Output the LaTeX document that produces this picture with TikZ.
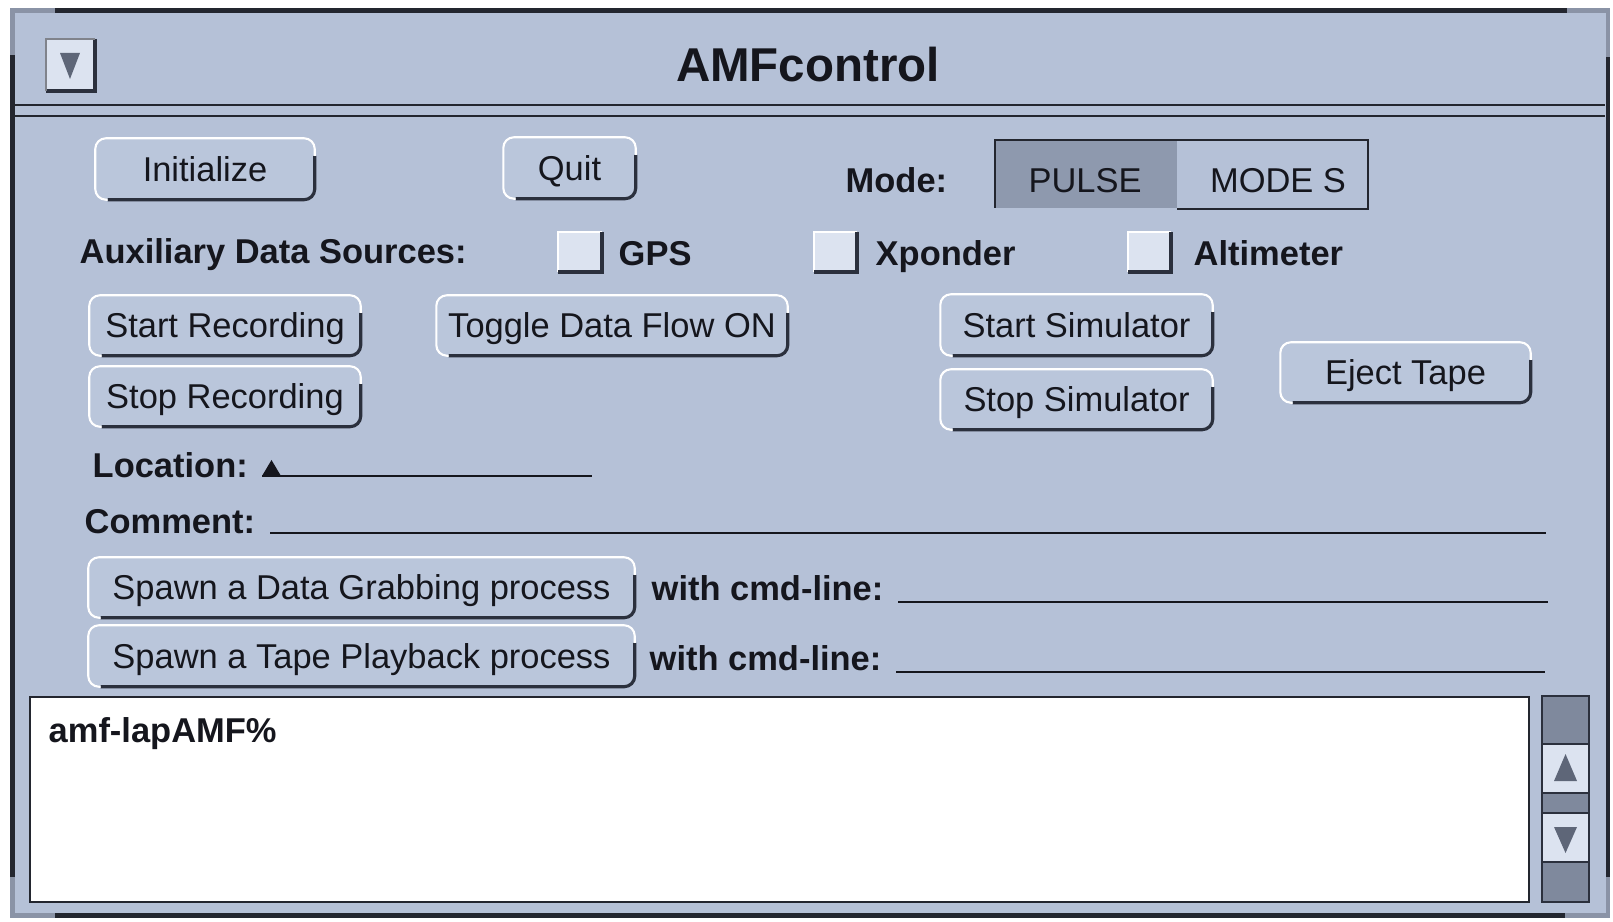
\documentclass[tikz,border=0pt]{standalone}
\usepackage{fontspec}
\setmainfont{Liberation Sans}
\definecolor{winbg}{HTML}{B5C1D7}
\definecolor{btnfill}{HTML}{BAC6DB}
\definecolor{txt}{HTML}{15161D}
\definecolor{shadow}{HTML}{2B303D}
\definecolor{framedark}{HTML}{23262F}
\definecolor{framegray}{HTML}{8A93A6}
\definecolor{lightbox}{HTML}{DCE3F0}
\definecolor{darkseg}{HTML}{7F899D}
\definecolor{pulsefill}{HTML}{8E99AE}
\definecolor{arrowgray}{HTML}{5E6678}
\tikzset{
 lbl/.style={font=\bfseries\fontsize{9.8}{12}\selectfont, text=txt, inner sep=0pt, anchor=base west},
 btn/.style={rounded corners=3pt, fill=btnfill, inner sep=0pt, font=\fontsize{9.8}{12}\selectfont, text=txt, text height=7pt, text depth=0pt},
 btnhi/.style={draw=white, line width=0.6pt, rounded corners=3pt},
 btnsh/.style={draw=shadow, line width=0.9pt, rounded corners=3pt},
 field/.style={draw=txt, line width=0.7pt},
 plain/.style={font=\fontsize{9.8}{12}\selectfont, text=txt, inner sep=0pt, text height=7pt, text depth=0pt},
}
\newcommand\mkbtn[6]{%
 \node[btn, minimum width={(#4-#2)*0.01cm}, minimum height={(#5-#3)*0.01cm}] (#1) at ({(#2+#4)/2},{(#3+#5)/2}) {#6};
 \draw[btnsh] ([yshift=-5pt]#1.north east) -- (#1.south east) -- ([xshift=3.5pt]#1.south west);
 \draw[btnhi] ([xshift=3.5pt]#1.south west) -- (#1.south west) -- (#1.north west) -- (#1.north east) -- ([yshift=-5pt]#1.north east);
}
\newcommand\mkchk[4]{%
 \fill[lightbox] (#1,#2) rectangle (#3,#4);
 \draw[white, line width=0.6pt] (#1,#4) -- (#1,#2) -- (#3,#2);
 \draw[shadow, line width=0.9pt] (#3,#2) -- (#3,#4) -- (#1,#4);
}
\begin{document}
\begin{tikzpicture}[x=0.01cm,y=-0.01cm]
\useasboundingbox (0,0) rectangle (1613,922);
\fill[white] (0,0) rectangle (1613,922);
\fill[winbg] (10,8) rectangle (1610,918);
% frame
\draw[framedark, line width=1.4pt] (55,10.5) -- (1567,10.5);
\draw[framedark, line width=1.4pt] (12.5,55) -- (12.5,877);
\draw[framedark, line width=1.4pt] (1608,57) -- (1608,877);
\draw[framedark, line width=1.4pt] (55,915.5) -- (1565,915.5);
\draw[framegray, line width=1.4pt] (12.5,55) -- (12.5,10.5) -- (55,10.5);
\draw[framegray, line width=1.4pt] (1567,10.5) -- (1608,10.5) -- (1608,57);
\draw[framegray, line width=1.4pt] (12.5,877) -- (12.5,915.5) -- (55,915.5);
\draw[framegray, line width=1.4pt] (1565,915.5) -- (1608,915.5) -- (1608,877);
% title bar
\draw[framedark, line width=0.8pt] (15,105) -- (1605,105);
\draw[framedark, line width=0.8pt] (15,116) -- (1605,116);
\fill[lightbox] (46,39) rectangle (95,91);
\draw[shadow, line width=0.9pt] (95,39) -- (95,91) -- (46,91);
\draw[shadow!60, line width=0.5pt] (46,91) -- (46,39) -- (95,39);
\fill[arrowgray] (60,53) -- (80,53) -- (70,79) -- cycle;
\node[font=\bfseries\fontsize{13.5}{16}\selectfont, text=txt, inner sep=0pt, anchor=base] (title) at (808,82) {AMFcontrol};
% row 1
\mkbtn{init}{96}{139}{314}{199}{Initialize}
\mkbtn{quit}{504}{138}{635}{198}{Quit}
\node[lbl] (mode) at (845,193) {Mode:};
\fill[pulsefill] (995,140) rectangle (1177,208);
\draw[framedark, line width=0.7pt] (995,208) -- (995,140) -- (1368,140) -- (1368,209) -- (1177,209);
\node[plain] (pulse) at (1085,180) {PULSE};
\node[plain] (modes) at (1278,180) {MODE S};
% row 2
\node[lbl] (aux) at (79,264) {Auxiliary Data Sources:};
\mkchk{558}{232}{602}{272}
\node[lbl] (gps) at (618,266) {GPS};
\mkchk{814}{232}{857}{272}
\node[lbl] (xp) at (875,266) {Xponder};
\mkchk{1128}{232}{1171}{272}
\node[lbl] (alt) at (1193,266) {Altimeter};
% buttons
\mkbtn{startrec}{90}{296}{360}{355}{Start Recording}
\mkbtn{stoprec}{90}{367}{360}{426}{Stop Recording}
\mkbtn{toggle}{437}{296}{787}{355}{Toggle Data Flow ON}
\mkbtn{startsim}{941}{295}{1212}{355}{Start Simulator}
\mkbtn{stopsim}{941}{370}{1212}{429}{Stop Simulator}
\mkbtn{eject}{1281}{343}{1530}{402}{Eject Tape}
% location / comment
\node[lbl] (loc) at (92,478) {Location:};
\fill[txt] (262,476) -- (281,476) -- (271.5,460) -- cycle;
\coordinate (locA) at (262,476); \coordinate (locB) at (592,476);
\draw[field] (locA) -- (locB);
\node[lbl] (com) at (84,534) {Comment:};
\coordinate (comA) at (270,533); \coordinate (comB) at (1546,533);
\draw[field] (comA) -- (comB);
% spawn
\mkbtn{grab}{89}{558}{634}{617}{Spawn a Data Grabbing process}
\node[lbl] (cmd1) at (651,600) {with cmd-line:};
\coordinate (c1A) at (898,602); \coordinate (c1B) at (1548,602);
\draw[field] (c1A) -- (c1B);
\mkbtn{play}{89}{626}{634}{686}{Spawn a Tape Playback process}
\node[lbl] (cmd2) at (649,670) {with cmd-line:};
\coordinate (c2A) at (896,672); \coordinate (c2B) at (1545,672);
\draw[field] (c2A) -- (c2B);
% text area
\draw[fill=white, draw=framedark, line width=0.8pt] (30,697) rectangle (1529,902);
\node[lbl] (prompt) at (48,742) {amf-lapAMF\%};
% scrollbar
\draw[fill=darkseg, draw=shadow, line width=0.6pt] (1542,696) rectangle (1589,744);
\draw[fill=lightbox, draw=shadow, line width=0.6pt] (1542,744) rectangle (1589,793);
\draw[fill=darkseg, draw=shadow, line width=0.6pt] (1542,793) rectangle (1589,813);
\draw[fill=lightbox, draw=shadow, line width=0.6pt] (1542,813) rectangle (1589,862);
\draw[fill=darkseg, draw=shadow, line width=0.6pt] (1542,862) rectangle (1589,902);
\fill[arrowgray] (1554,781) -- (1577,781) -- (1565.5,754) -- cycle;
\fill[arrowgray] (1554,827) -- (1577,827) -- (1565.5,853) -- cycle;
\end{tikzpicture}
\end{document}
